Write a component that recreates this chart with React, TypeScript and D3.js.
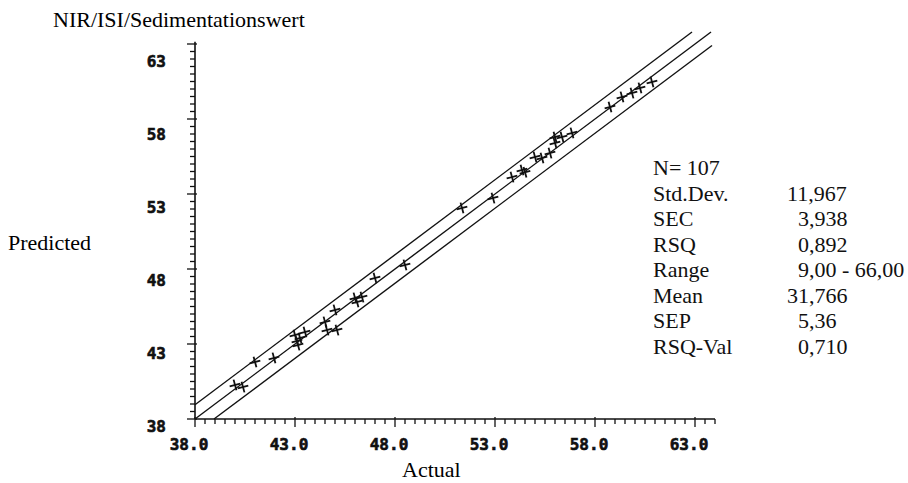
import * as d3 from 'd3';

// Messpunkte (Actual, Predicted)
const points: [number, number][] = [
  [40.0, 40.27], [40.4, 40.13], [41.0, 41.8], [41.95, 42.07],
  [43.0, 43.6], [43.15, 42.93], [43.5, 43.8], [43.25, 43.4], [43.1, 43.2],
  [44.5, 44.47], [44.6, 43.93], [45.1, 43.93], [45.0, 45.27],
  [46.0, 46.07], [46.35, 46.13], [46.1, 45.8], [47.0, 47.4], [48.5, 48.27],
  [51.35, 52.07], [52.9, 52.73], [53.85, 54.13], [54.35, 54.6], [54.5, 54.45],
  [55.0, 55.47], [55.35, 55.4], [55.75, 55.73], [56.0, 56.4], [56.0, 56.8],
  [56.35, 56.8], [56.85, 57.07], [58.75, 58.8], [59.35, 59.47],
  [59.85, 59.73], [60.25, 60.07], [60.85, 60.47],
];

// Regressionslinie und Fehlerband (x-Anfang, x-Ende, Versatz in y)
const bandLines: [number, number, number][] = [
  [38.0, 63.8, 0],
  [38.0, 62.85, 0.95],
  [38.95, 63.85, -0.95],
];

const xTicks = [38, 43, 48, 53, 58, 63];
const yTicks = [38, 43, 48, 53, 58, 63];

const statLabels = ['N= 107', 'Std.Dev.', 'SEC', 'RSQ', 'Range', 'Mean', 'SEP', 'RSQ-Val'];
const statValues = ['', '11,967', '3,938', '0,892', '9,00 - 66,00', '31,766', '5,36', '0,710'];

const serif = '"Liberation Serif", "Times New Roman", serif';
const mono = '"DejaVu Sans Mono", monospace';

export default function App() {
  const width = 908;
  const height = 483;

  const x = d3.scaleLinear().domain([38, 64]).range([195, 715]);
  const y = d3.scaleLinear().domain([38, 63]).range([419, 44]);
  // die Beschriftungen der y-Achse sitzen im Original leicht versetzt zu den Strichen
  const yLabel = d3.scaleLinear().domain([38, 63]).range([427, 62]);
  const yTop = 63.15;

  const xMinor = d3.range(38, 64.01, 0.5);
  const yMinor = d3.range(38, 63.01, 0.5);
  const isMajor = (v: number) => Math.abs((v - 38) % 5) < 1e-6;

  const line = d3.line<[number, number]>().x((d) => x(d[0])).y((d) => y(d[1]));

  const cross = 5.5;

  return (
    <svg
      width={width}
      height={height}
      style={{ position: 'absolute', left: 0, top: 0, background: '#fff' }}
    >
      {/* Titel und Achsentitel */}
      <text x={53} y={27} fontFamily={serif} fontSize={22}>NIR/ISI/Sedimentationswert</text>
      <text x={8} y={250} fontFamily={serif} fontSize={22}>Predicted</text>
      <text x={402} y={477} fontFamily={serif} fontSize={22}>Actual</text>

      {/* Achsen */}
      <g stroke="#111" strokeWidth={1.6} fill="none">
        <line x1={x(38)} x2={x(38)} y1={y(38)} y2={y(yTop)} />
        <line x1={x(38)} x2={x(64)} y1={y(38)} y2={y(38)} />
        {yMinor.map((v) => (
          <line key={`yt${v}`} x1={x(38) - (isMajor(v) ? 8 : 5)} x2={x(38) + (isMajor(v) ? 2 : 0)} y1={y(v)} y2={y(v)} strokeWidth={1.3} />
        ))}
        {xMinor.map((v) => (
          <line key={`xt${v}`} x1={x(v)} x2={x(v)} y1={y(38) - (isMajor(v) ? 2 : 0)} y2={y(38) + (isMajor(v) ? 8 : 5)} strokeWidth={1.3} />
        ))}
      </g>

      {/* Tick-Beschriftungen */}
      <g fontFamily={mono} fontWeight="bold" fontSize={16} fill="#111" stroke="#111" strokeWidth={0.6}>
        {xTicks.map((t) => (
          <text key={`xl${t}`} x={x(t) - 6} y={450} textAnchor="middle">{t.toFixed(1)}</text>
        ))}
        {yTicks.map((t) => (
          <text key={`yl${t}`} x={166} y={yLabel(t) + 5} textAnchor="end">{t}</text>
        ))}
      </g>

      {/* Regressionslinie mit Band */}
      <g stroke="#111" strokeWidth={1.4} fill="none">
        {bandLines.map(([x0, x1, off], i) => (
          <path key={`bl${i}`} d={line([[x0, x0 + off], [x1, x1 + off]]) ?? ''} />
        ))}
      </g>

      {/* Messpunkte */}
      <g stroke="#111" strokeWidth={1.8}>
        {points.map(([a, p], i) => (
          <g key={`pt${i}`} transform={`translate(${x(a)},${y(p)}) rotate(-15)`}>
            <line x1={-cross} x2={cross} y1={0} y2={0} />
            <line x1={0} x2={0} y1={-cross} y2={cross} />
          </g>
        ))}
      </g>

      {/* Statistik */}
      <g fontFamily={serif} fontSize={22} fill="#111">
        {statLabels.map((s, i) => (
          <text key={`sl${i}`} x={653} y={175 + i * 25.5}>{s}</text>
        ))}
        {statValues.map((s, i) => {
          const intDigits = s.split(',')[0].length;
          return (
            <text key={`sv${i}`} x={809 - intDigits * 11} y={175 + i * 25.5}>{s}</text>
          );
        })}
      </g>
    </svg>
  );
}
